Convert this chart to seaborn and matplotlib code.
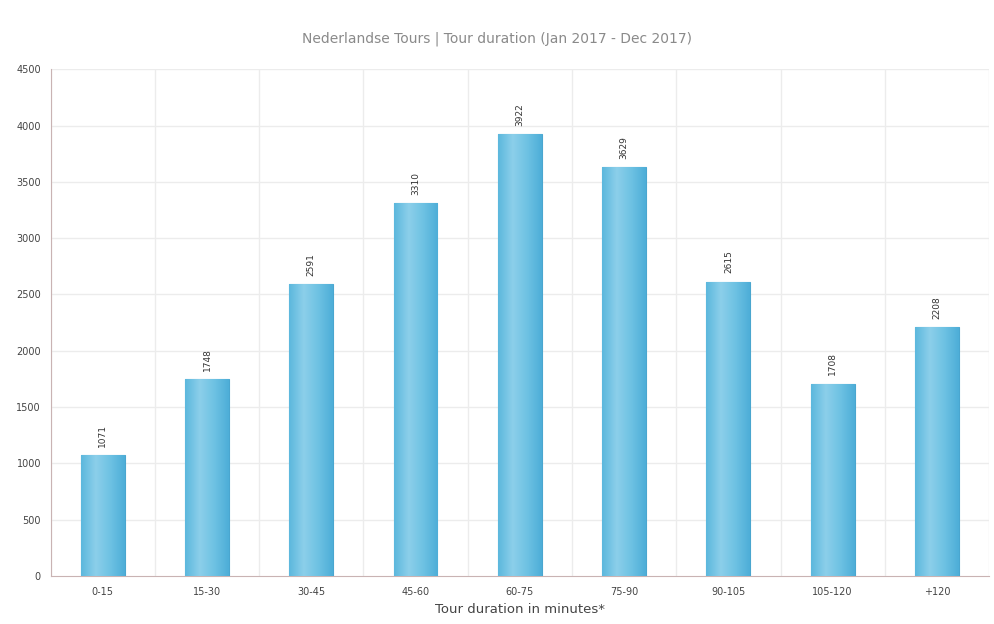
import numpy as np
import pandas as pd
import matplotlib
matplotlib.use('Agg')
import matplotlib.pyplot as plt
import seaborn as sns
from matplotlib.colors import LinearSegmentedColormap

# ── data ─────────────────────────────────────────────────────────────
categories = ['0-15', '15-30', '30-45', '45-60', '60-75', '75-90', '90-105', '105-120', '+120']
tours      = [1071, 1748, 2591, 3310, 3922, 3629, 2615, 1708, 2208]
y_ticks    = [0, 500, 1000, 1500, 2000, 2500, 3000, 3500, 4000, 4500]

df = pd.DataFrame({'duration': categories, 'tours': tours})

sns.set_style('white')
plt.rcParams['font.family'] = ['DejaVu Sans']

fig = plt.figure(figsize=(9.94, 6.24), dpi=100)
ax = fig.add_axes([0.051, 0.077, 0.944, 0.812])

sns.barplot(data=df, x='duration', y='tours', color='#5ab6dc', width=0.42,
            edgecolor='#4aa6cf', linewidth=0.8, ax=ax, zorder=3)

# gradient fill on each bar
grad = LinearSegmentedColormap.from_list('bar', ['#5cb8dd', '#8ccfea', '#6ec2e3', '#4eaed8'])
g = np.linspace(0, 1, 64).reshape(1, -1)
for p in ax.patches:
    x0, y0 = p.get_x(), p.get_y()
    w, h = p.get_width(), p.get_height()
    im = ax.imshow(g, cmap=grad, aspect='auto', extent=[x0, x0 + w, y0, y0 + h],
                   zorder=3.5, interpolation='bicubic')
    im.set_clip_path(p)

# value labels
for i, v in enumerate(tours):
    ax.annotate(str(v), (i, v), xytext=(0, 6), textcoords='offset points',
                rotation=90, ha='center', va='bottom', fontsize=6.5, color='#333333')

ax.set_xlim(-0.5, len(categories) - 0.5)
ax.set_ylim(0, 4500)
ax.set_yticks(y_ticks)
ax.set_yticklabels([str(t) for t in y_ticks], fontsize=7, color='#444444')
ax.tick_params(axis='x', labelsize=7, labelcolor='#444444', length=0, pad=8)
ax.tick_params(axis='y', length=3, color='#c9b3b3', pad=4)
ax.set_xticks(np.arange(len(categories)) - 0.5, minor=True)
ax.tick_params(axis='x', which='minor', length=3, color='#c9b3b3', direction='out')

# grid
for yv in y_ticks[1:]:
    ax.axhline(yv, color='#ececec', linewidth=1.0, zorder=1)
for xv in np.arange(len(categories) + 1) - 0.5:
    ax.axvline(xv, color='#ececec', linewidth=1.0, zorder=1)

for s in ['top', 'right']:
    ax.spines[s].set_visible(False)
ax.spines['left'].set_color('#c9b3b3')
ax.spines['bottom'].set_color('#c9b3b3')

ax.set_ylabel('')
ax.set_xlabel('Tour duration in minutes*', fontsize=9.5, color='#444444', labelpad=4)
fig.suptitle('Nederlandse Tours | Tour duration (Jan 2017 - Dec 2017)',
             fontsize=10, color='#8a8a8a', x=0.5, y=0.95)

fig.savefig('out.png', dpi=100, facecolor='white')
